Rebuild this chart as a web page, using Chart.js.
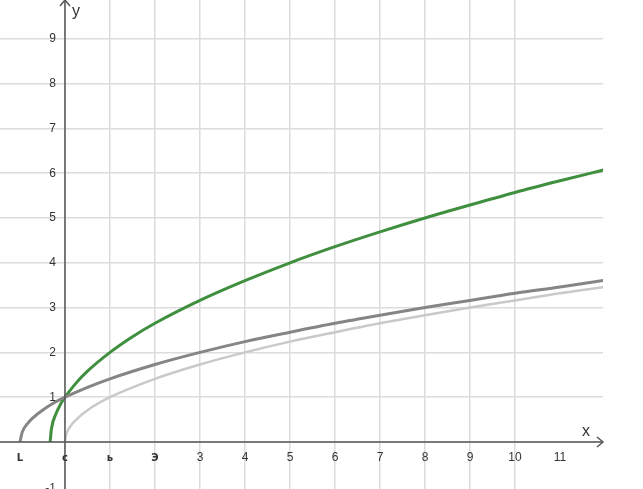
<!DOCTYPE html>
<html>
<head>
<meta charset="utf-8">
<script src="https://cdn.jsdelivr.net/npm/chart.js@4"></script>
<style>
  html, body { margin: 0; padding: 0; background: #fff; }
  #wrap { width: 643px; height: 489px; position: relative; }
</style>
</head>
<body>
<div id="wrap"><canvas id="myChart"></canvas></div>
<script>
// values
const greenX = [-0.33, -0.3, -0.2, -0.1, 0, 0.25, 0.5, 1, 1.5, 2, 3, 4, 5, 6, 7, 8, 9, 10, 11, 12];
const greenY = [0, 0.3, 0.63, 0.84, 1, 1.32, 1.58, 2, 2.35, 2.65, 3.16, 3.6, 4, 4.36, 4.69, 5, 5.29, 5.57, 5.83, 6.08];

const darkX = [-1, -0.95, -0.85, -0.7, -0.5, -0.25, 0, 0.5, 1, 2, 3, 4, 5, 6, 7, 8, 9, 10, 11, 12];
const darkY = [0, 0.22, 0.39, 0.55, 0.71, 0.87, 1, 1.22, 1.41, 1.73, 2, 2.24, 2.45, 2.65, 2.83, 3, 3.16, 3.32, 3.46, 3.61];

const lightX = [0, 0.02, 0.1, 0.25, 0.5, 1, 2, 3, 4, 5, 6, 7, 8, 9, 10, 11, 12];
const lightY = [0, 0.14, 0.32, 0.5, 0.71, 1, 1.41, 1.73, 2, 2.24, 2.45, 2.65, 2.83, 3, 3.16, 3.32, 3.46];

// tick labels as they appear (the small ones left of 3 are smudged in the picture)
const xTickValues = [-1, 0, 1, 2, 3, 4, 5, 6, 7, 8, 9, 10, 11];
const xTickLabels = ["L", "c", "ь", "Э", "3", "4", "5", "6", "7", "8", "9", "10", "11"];
const yTickValues = [1, 2, 3, 4, 5, 6, 7, 8, 9];
const yTickLabels = ["1", "2", "3", "4", "5", "6", "7", "8", "9"];

function toPoints(xs, ys) {
	return xs.map(function(x, i) { return { x: x, y: ys[i] }; });
}

// axes with arrows and labels, like the geometry app draws them
const axesPlugin = {
	id: 'axesPlugin',
	afterDatasetsDraw: function(chart) {
		const ctx = chart.ctx;
		const xs = chart.scales.x, ys = chart.scales.y;
		const ox = xs.getPixelForValue(0), oy = ys.getPixelForValue(0);
		const right = chart.chartArea.right, top = chart.chartArea.top;
		ctx.save();
		ctx.strokeStyle = "#555";
		ctx.lineWidth = 1.5;
		ctx.beginPath();
		ctx.moveTo(chart.chartArea.left, oy);
		ctx.lineTo(right, oy);
		ctx.moveTo(ox, chart.chartArea.bottom);
		ctx.lineTo(ox, top);
		ctx.stroke();
		// arrow heads
		ctx.beginPath();
		ctx.moveTo(right - 6, oy - 5);
		ctx.lineTo(right, oy);
		ctx.lineTo(right - 6, oy + 5);
		ctx.moveTo(ox - 5, top + 6);
		ctx.lineTo(ox, top);
		ctx.lineTo(ox + 5, top + 6);
		ctx.stroke();

		ctx.fillStyle = "#333";
		ctx.textAlign = "center";
		ctx.textBaseline = "middle";
		xTickValues.forEach(function(v, i) {
			const small = i < 4;
			ctx.font = small ? "bold 10px 'DejaVu Sans', sans-serif" : "12px 'Liberation Sans', Arial, sans-serif";
			ctx.fillText(xTickLabels[i], xs.getPixelForValue(v), oy + 16);
		});
		ctx.font = "12px 'Liberation Sans', Arial, sans-serif";
		ctx.textAlign = "right";
		yTickValues.forEach(function(v, i) {
			ctx.fillText(yTickLabels[i], ox - 9, ys.getPixelForValue(v));
		});
		// the -1 label sits mostly below the bottom edge
		ctx.textBaseline = "top";
		ctx.fillText("-1", ox - 9, ys.getPixelForValue(-1) - 4);

		ctx.font = "16px 'Liberation Sans', Arial, sans-serif";
		ctx.textAlign = "center";
		ctx.textBaseline = "middle";
		ctx.fillText("x", right - 17, oy - 10);
		ctx.fillText("y", ox + 11, top + 12);
		ctx.restore();
	}
};

function integerTicks(scale) {
	scale.ticks = scale.ticks.filter(function(t) { return Number.isInteger(t.value); });
}

var ctx = document.getElementById("myChart").getContext('2d');
var myChart = new Chart(ctx, {
	type: 'line',
	data: {
		datasets: [{
			label: "light",
			data: toPoints(lightX, lightY),
			borderColor: "#c9c9c9",
			borderWidth: 2.5
		}, {
			label: "dark",
			data: toPoints(darkX, darkY),
			borderColor: "#858585",
			borderWidth: 3
		}, {
			label: "green",
			data: toPoints(greenX, greenY),
			borderColor: "#3f8f3f",
			borderWidth: 3
		}]
	},
	options: {
		responsive: true,
		maintainAspectRatio: false,
		animation: false,
		layout: { padding: { left: 0, right: 40, top: 0, bottom: 0 } },
		elements: {
			point: { radius: 0 },
			line: { cubicInterpolationMode: 'monotone', fill: false }
		},
		plugins: {
			legend: { display: false },
			tooltip: { enabled: false }
		},
		scales: {
			x: {
				type: 'linear',
				min: -1.444,
				max: 11.956,
				ticks: { display: false, stepSize: 1 },
				afterBuildTicks: integerTicks,
				grid: { color: "#dcdcdc", lineWidth: 1.5, drawTicks: false },
				border: { display: false }
			},
			y: {
				type: 'linear',
				min: -1.049,
				max: 9.866,
				ticks: { display: false, stepSize: 1 },
				afterBuildTicks: integerTicks,
				grid: { color: "#dcdcdc", lineWidth: 1.5, drawTicks: false },
				border: { display: false }
			}
		}
	},
	plugins: [axesPlugin]
});
</script>
</body>
</html>
